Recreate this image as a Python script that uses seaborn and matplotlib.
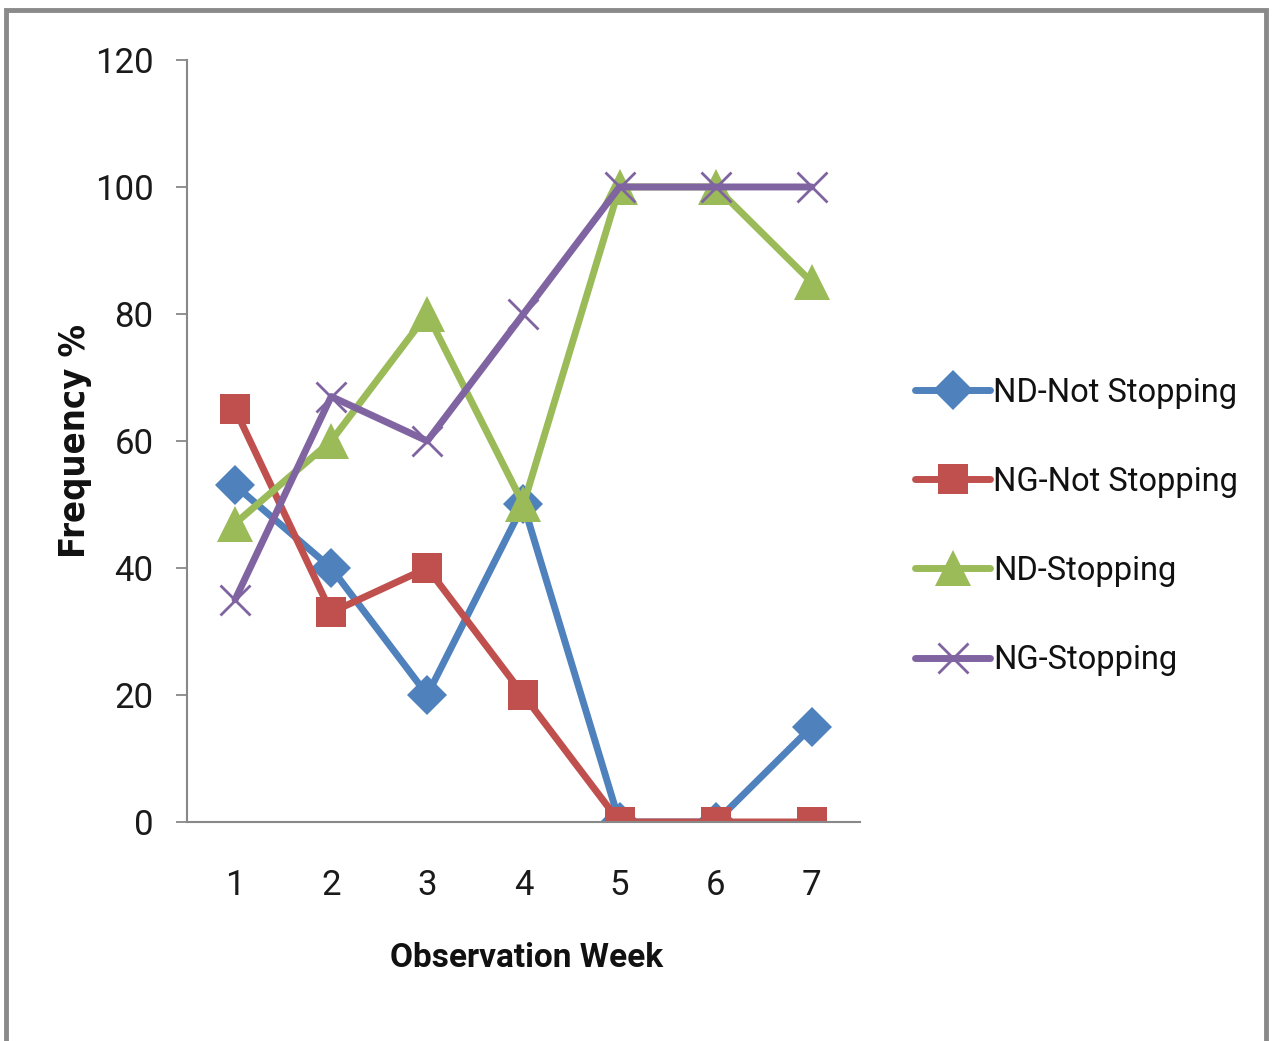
import matplotlib
matplotlib.use("Agg")
import matplotlib.pyplot as plt
import seaborn as sns
import pandas as pd
from matplotlib.patches import Rectangle

weeks = [1, 2, 3, 4, 5, 6, 7]
nd_not_stopping = [53, 40, 20, 50, 0, 0, 15]
ng_not_stopping = [65, 33, 40, 20, 0, 0, 0]
nd_stopping = [47, 60, 80, 50, 100, 100, 85]
ng_stopping = [35, 67, 60, 80, 100, 100, 100]
series_names = ["ND-Not Stopping", "NG-Not Stopping", "ND-Stopping", "NG-Stopping"]
y_ticks = [0, 20, 40, 60, 80, 100, 120]

sns.set_theme(style="white")
plt.rcParams['font.family'] = ['Roboto', 'DejaVu Sans']
plt.rcParams['font.stretch'] = 'condensed'

fig = plt.figure(figsize=(12.72, 10.41), dpi=100)
ax = fig.add_axes([0.147, 0.2104, 0.529, 0.732])

colors = ["#4F81BD", "#C0504D", "#9BBB59", "#8064A2"]
markers = ["D", "s", "^", "x"]
msizes = [20, 22, 26, 22]
values = [nd_not_stopping, ng_not_stopping, nd_stopping, ng_stopping]

for name, vals, c, m, ms in zip(series_names, values, colors, markers, msizes):
    df = pd.DataFrame({"week": weeks, "freq": vals})
    kw = dict(marker=m, markersize=ms, color=c, linewidth=5.0, label=name,
              markeredgecolor=c, markerfacecolor=c)
    kw.update(markeredgewidth=2.0 if m == "x" else 0)
    sns.lineplot(data=df, x="week", y="freq", ax=ax, **kw)

ax.set_xlim(0.5, 7.5)
ax.set_ylim(0, 120)
ax.set_xticks(weeks)
ax.set_yticks(y_ticks)
ax.tick_params(axis='y', length=8, width=1.3, color='#888888', direction='out', left=True,
               labelsize=25, pad=16, labelcolor='#1a1a1a')
ax.tick_params(axis='x', length=0, labelsize=25, pad=46, labelcolor='#1a1a1a')
for t in ax.get_xticklabels():
    t.set_va('center')
for s in ["top", "right"]:
    ax.spines[s].set_visible(False)
for s in ["left", "bottom"]:
    ax.spines[s].set_color("#888888")
    ax.spines[s].set_linewidth(1.5)

ax.set_xlabel("Observation Week", fontsize=24, fontweight='bold', color='#111111', va='center')
ax.xaxis.set_label_coords(0.504, -0.178)
ax.set_ylabel("Frequency %", fontsize=26, fontweight='bold', family='DejaVu Sans',
              color='#111111', va='center')
ax.yaxis.set_label_coords(-0.166, 0.50)

leg = ax.legend(loc='center left', bbox_to_anchor=(1.082, 0.388), frameon=False,
                fontsize=23.5, handlelength=2.3, handletextpad=0.1, labelspacing=1.75,
                borderaxespad=0, borderpad=0)
for t in leg.get_texts():
    t.set_color('#111111')

fig.patches.append(Rectangle((0.005, -0.01), 0.99, 1.0, transform=fig.transFigure,
                             fill=False, edgecolor="#8a8a8a", linewidth=3.5))

fig.savefig("out.png", dpi=100)
